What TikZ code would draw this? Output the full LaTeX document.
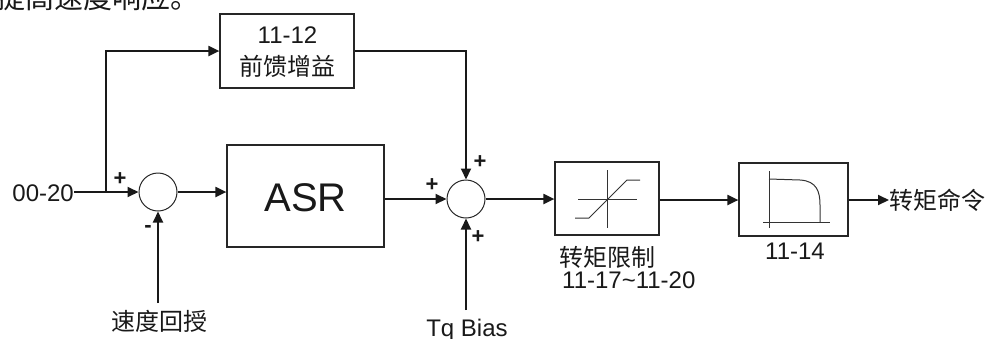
\documentclass[tikz,border=0pt]{standalone}
\usepackage{fontspec}
\setmainfont{Liberation Sans}
\newfontfamily\cjk{Noto Sans CJK SC}
\usetikzlibrary{arrows.meta,calc}
\begin{document}
\begin{tikzpicture}[x=1pt,y=-1pt,
  line/.style={draw=black!90, line width=2pt},
  arr/.style={line, -{Triangle[length=11pt,width=10pt]}},
  blk/.style={draw=black!85, line width=1.2pt, inner sep=0pt},
  sumc/.style={circle, draw=black!85, line width=1pt, minimum size=38pt, inner sep=0pt},
  lab/.style={font=\fontsize{24}{26}\selectfont, inner sep=0pt, text=black!90},
  cj/.style={font=\cjk\fontsize{24}{26}\selectfont, inner sep=0pt, text=black!90},
  sgn/.style={font=\bfseries\fontsize{22}{22}\selectfont, inner sep=0pt, text=black!90},
  icon/.style={draw=black!80, line width=1pt}]
\useasboundingbox (0,0) rectangle (987,338);
\clip (0,0) rectangle (987,338);

% clipped heading
\node[cj, font=\cjk\fontsize{29}{30}\selectfont, anchor=base west] (head) at (-4,8) {提高速度响应。};

% blocks
\node[blk, minimum width=134pt, minimum height=74pt] (ff) at (287,51) {};
\node[lab, anchor=base] (ffnum) at (287.5,43) {11-12};
\node[cj, anchor=base] (fftxt) at (287.5,75) {前馈增益};

\node[blk, minimum width=157pt, minimum height=102pt] (asr) at (305.5,196) {};
\node[lab, font=\fontsize{40}{42}\selectfont, anchor=base] (asrtxt) at (305.5,211) {ASR};

\node[sumc] (s1) at (158,192) {};
\node[sumc] (s2) at (466,199) {};

\node[blk, minimum width=104pt, minimum height=73pt] (lim) at (607,198.5) {};
\node[blk, minimum width=109pt, minimum height=73pt] (flt) at (793.5,199.5) {};

% labels
\node[lab, anchor=base east] (in) at (74,201) {00-20};
\node[cj, anchor=base] (fb) at (159,330) {速度回授};
\node[lab, anchor=base] (tq) at (467,336) {Tq Bias};
\node[cj, anchor=base] (limtxt) at (607,266) {转矩限制};
\node[lab, anchor=base west] (limnum) at (562,288) {11-17\textasciitilde 11-20};
\node[lab, anchor=base] (fltnum) at (795,259) {11-14};
\node[cj, anchor=west] (out) at (889,200) {转矩命令};

% signs
\node[sgn] (p1) at (120,179) {+};
\node[sgn] (m1) at (148,229) {-};
\node[sgn] (p2) at (432,185) {+};
\node[sgn] (p3) at (480,162) {+};
\node[sgn] (p4) at (478,237) {+};

% connectors
\coordinate (br) at (106,192);
\coordinate (fbs) at (158,303);
\coordinate (tqs) at (466,310);
\draw[arr] (in.east |- s1.west) -- (s1.west);
\draw[arr] (br) |- (ff.west);
\draw[arr] (ff.east) -| (s2.north);
\draw[arr] (s1.east) -- (s1.east -| asr.west);
\draw[arr] (asr.east |- s2.west) -- (s2.west);
\draw[arr] (fbs) -- (s1.south);
\draw[arr] (tqs) -- (s2.south);
\draw[arr] (s2.east) -- (s2.east -| lim.west);
\draw[arr] (lim.east |- 0,200) -- (flt.west |- 0,200);
\draw[arr] (flt.east |- 0,200) -- (out.west |- 0,200);

% limiter icon
\draw[icon] (607,170) -- (607,228);
\draw[icon] (578,199) -- (637,199);
\draw[icon] (575,218) -- (589,218) -- (627,180) -- (640,180);

% filter icon
\draw[icon] (769,171) -- (769,228);
\draw[icon] (763,222) -- (830,222);
\draw[icon] (769,179) -- (800,180) .. controls (817,181) and (820,192) .. (820,205) -- (820,222);
\end{tikzpicture}
\end{document}
